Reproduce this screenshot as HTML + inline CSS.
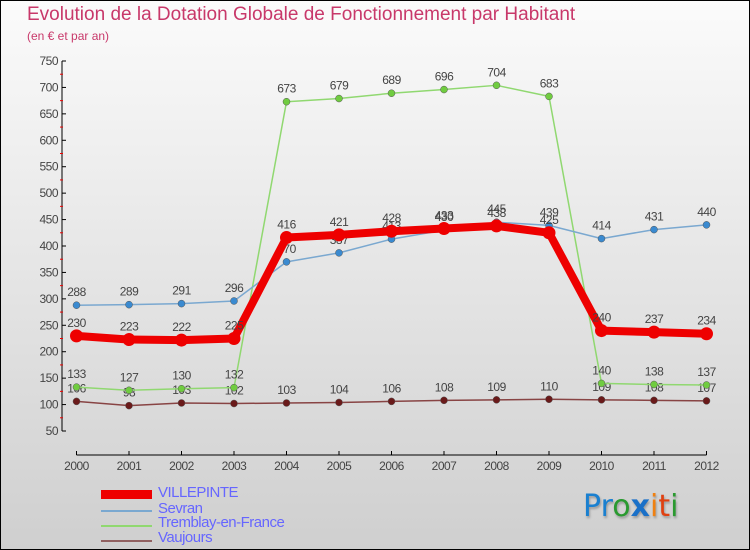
<!DOCTYPE html>
<html><head><meta charset="utf-8"><style>
body{margin:0}
#c{position:relative;width:750px;height:550px;box-sizing:border-box;border:1px solid #000;background:linear-gradient(#fbfbfb,#cfcfcf);font-family:"Liberation Sans",sans-serif;overflow:hidden}
.t{position:absolute;left:26px;top:3px;font-size:19px;color:#c8386a}
.s{position:absolute;left:26px;top:28px;font-size:12px;color:#c8386a}
.lg{position:absolute;left:157px;font-size:15px;color:#6666ff;letter-spacing:-0.5px}
.sw{position:absolute;left:100px;width:51px}
</style></head><body>
<div id="c">
<div class="t">Evolution de la Dotation Globale de Fonctionnement par Habitant</div>
<div class="s">(en € et par an)</div>
<svg id="g" width="750" height="550" style="position:absolute;left:0;top:0"></svg>
<div class="sw" style="top:489px;height:9px;background:#e00"></div>
<div class="lg" style="top:483px">VILLEPINTE</div>
<div class="sw" style="top:509px;height:2px;background:#7aa8d0"></div>
<div class="lg" style="top:499px">Sevran</div>
<div class="sw" style="top:524px;height:2px;background:#90d870"></div>
<div class="lg" style="top:513px">Tremblay-en-France</div>
<div class="sw" style="top:539px;height:2px;background:#906060"></div>
<div class="lg" style="top:528px">Vaujours</div>
<div style="position:absolute;left:582px;top:488px;font-size:30px;font-family:'DejaVu Sans',sans-serif;text-shadow:1px 2px 2px #999"><span style="color:#1a80d0">Pr</span><span style="color:#2a9a30">o</span><span style="color:#1a70c8;font-weight:bold">x</span><span style="color:#f08010">i</span><span style="color:#e04010">t</span><span style="color:#2a9a30">i</span></div>
</div>
<script>
const years=[2000,2001,2002,2003,2004,2005,2006,2007,2008,2009,2010,2011,2012];
const yTicks=[50,100,150,200,250,300,350,400,450,500,550,600,650,700,750];
const villepinte=[230,223,222,225,416,421,428,433,438,425,240,237,234];
const sevran=[288,289,291,296,370,387,413,430,445,439,414,431,440];
const tremblay=[133,127,130,132,673,679,689,696,704,683,140,138,137];
const vaujours=[106,98,103,102,103,104,106,108,109,110,109,108,107];
const NS="http://www.w3.org/2000/svg",svg=document.getElementById('g');
const x=i=>75.5+i*(705.5-75.5)/(years.length-1);
const y=v=>430-(v-50)*370/700;
function mk(t,a,p){const e=document.createElementNS(NS,t);for(const k in a)e.setAttribute(k,a[k]);(p||svg).appendChild(e);return e;}
let ax=mk('line',{x1:61,y1:60,x2:61,y2:430,stroke:'#000'});


yTicks.forEach((v,i)=>{
 mk('line',{x1:61,x2:65,y1:y(v),y2:y(v),stroke:'#000'});
 if(i<yTicks.length-1)mk('line',{x1:59,x2:62,y1:y(v+25),y2:y(v+25),stroke:'#e00'});
 const t=mk('text',{x:57,y:y(v)+4,'text-anchor':'end','font-size':12,fill:'#444','letter-spacing':'-0.5'});
 t.textContent=v;
 
 
});
let xa=mk('line',{x1:75.5,y1:454,x2:705.5,y2:454,stroke:'#000'});


years.forEach((yr,i)=>{
 mk('line',{x1:x(i),x2:x(i),y1:450,y2:454,stroke:'#000'});
 const t=mk('text',{x:x(i),y:469,'text-anchor':'middle','font-size':12,fill:'#444','letter-spacing':'-0.5'});
 t.textContent=yr;
 
 
});
function series(d,col,dot,w,r,name){
 const g=mk('g',{});
 
 
 mk('polyline',{points:d.map((v,i)=>x(i)+','+y(v)).join(' '),fill:'none',stroke:col,'stroke-width':w,'stroke-linejoin':'round'},g);
 d.forEach((v,i)=>{
  const c=mk('circle',{cx:x(i),cy:y(v),r:r,fill:dot,stroke:r>4?'none':'#555','stroke-width':0.5},g);
  
  
  const t=mk('text',{x:x(i),y:y(v)-9,'text-anchor':'middle','font-size':12,fill:'#444','letter-spacing':'-0.5'},g);
  t.textContent=v;
  
  
 });
}
series(vaujours,'#884444','#6a1a1a',1.5,3.5,'vaujours');
series(tremblay,'#90d870','#70cc40',1.5,3.5,'tremblay');
series(sevran,'#7aa8d0','#3a8ad0',1.5,3.5,'sevran');
series(villepinte,'#ee0000','#ee0000',8,6.5,'villepinte');
</script>
</body></html>
